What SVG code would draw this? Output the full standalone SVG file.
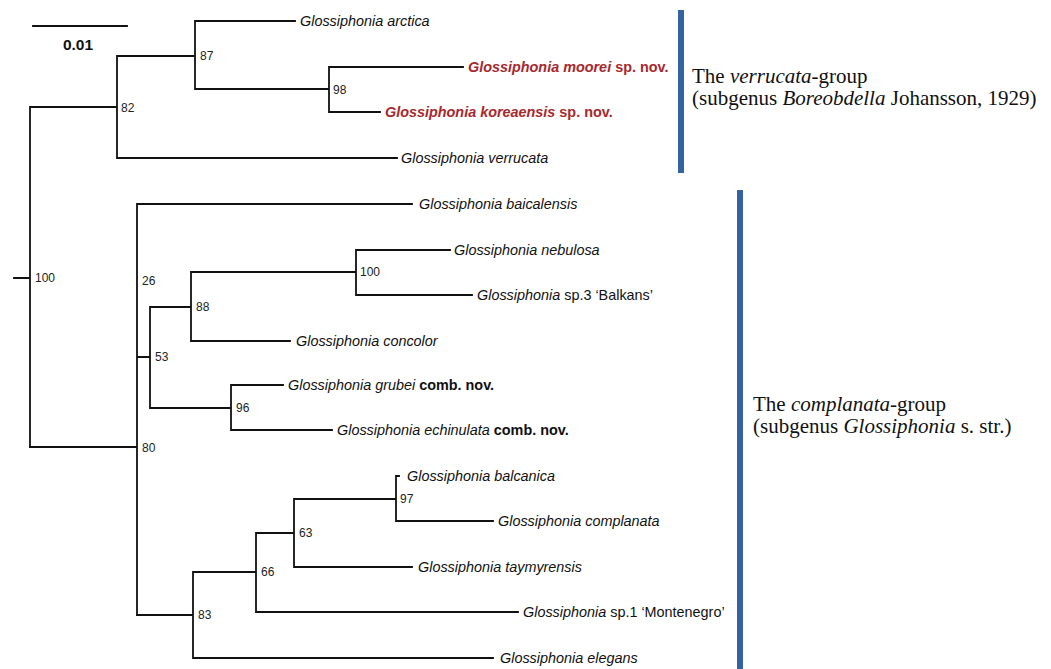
<svg xmlns="http://www.w3.org/2000/svg" width="1051" height="669" viewBox="0 0 1051 669">
<style>
.br{fill:none;stroke:#111;stroke-width:1.8;stroke-linecap:square}
.lf{font-family:"Liberation Sans",Arial,sans-serif;font-size:14.4px;font-style:italic;fill:#111}
.nv{font-style:normal;font-weight:bold}
.sp{font-style:normal}
.red{fill:#a8282c;font-weight:bold}
.bs{font-family:"Liberation Sans",Arial,sans-serif;font-size:12px;fill:#222}
.grp{font-family:"Liberation Serif","Times New Roman",serif;font-size:21px;fill:#111}
.bar{fill:#3563a2}
</style>
<rect width="1051" height="669" fill="#fff"/>
<g id="scale">
<line x1="33" y1="26" x2="127" y2="26" class="br" stroke-linecap="butt"/>
<text x="78" y="50" text-anchor="middle" font-family="Liberation Sans,Arial,sans-serif" font-size="15.5" font-weight="bold" fill="#111">0.01</text>
</g>
<g id="connectors">
<path class="br" d="M14,278 H30 M30,107 V447 M30,107 H117 M117,56 V158 M117,56 H195 M195,21 V89 M195,21 H295 M195,89 H329 M329,67 V112 M329,67 H463 M329,112 H380 M117,158 H397"/>
<path class="br" d="M30,447 H137 M137,204 V615 M137,204 H412 M137,357 H150 M150,307 V408 M150,307 H191 M191,272 V341 M191,272 H356 M356,250 V295 M356,250 H450 M356,295 H472 M191,341 H290 M150,408 H231 M231,385 V430 M231,385 H283 M231,430 H332"/>
<path class="br" d="M137,615 H193 M193,572 V658 M193,572 H256 M256,533 V612 M256,533 H294 M294,499 V567 M294,499 H396 M396,476 V521 M396,476 H399 M396,521 H493 M294,567 H412 M256,612 H518 M193,658 H493"/>
</g>
<g id="n100"><text class="bs" x="35" y="282">100</text></g>
<g id="n82"><text class="bs" x="121" y="112">82</text></g>
<g id="n87"><text class="bs" x="200" y="60">87</text></g>
<g id="n98"><text class="bs" x="333" y="94">98</text></g>
<g id="n80"><text class="bs" x="142" y="452">80</text></g>
<g id="n26"><text class="bs" x="142" y="285">26</text></g>
<g id="n53"><text class="bs" x="155" y="361">53</text></g>
<g id="n88"><text class="bs" x="196" y="311">88</text></g>
<g id="n100b"><text class="bs" x="360" y="276">100</text></g>
<g id="n96"><text class="bs" x="236" y="412">96</text></g>
<g id="n83"><text class="bs" x="198" y="619">83</text></g>
<g id="n66"><text class="bs" x="261" y="576">66</text></g>
<g id="n63"><text class="bs" x="299" y="537">63</text></g>
<g id="n97"><text class="bs" x="400" y="503">97</text></g>
<g id="arctica"><text class="lf" x="300" y="26">Glossiphonia arctica</text></g>
<g id="moorei"><text class="lf red" x="468" y="72">Glossiphonia moorei<tspan class="sp"> sp. nov.</tspan></text></g>
<g id="koreaensis"><text class="lf red" x="385" y="117">Glossiphonia koreaensis<tspan class="sp"> sp. nov.</tspan></text></g>
<g id="verrucata"><text class="lf" x="401" y="163">Glossiphonia verrucata</text></g>
<g id="baicalensis"><text class="lf" x="419" y="209">Glossiphonia baicalensis</text></g>
<g id="nebulosa"><text class="lf" x="454" y="255">Glossiphonia nebulosa</text></g>
<g id="balkans"><text class="lf" x="477" y="300">Glossiphonia<tspan class="sp"> sp.3 ‘Balkans’</tspan></text></g>
<g id="concolor"><text class="lf" x="296" y="346">Glossiphonia concolor</text></g>
<g id="grubei"><text class="lf" x="288" y="390">Glossiphonia grubei<tspan class="nv"> comb. nov.</tspan></text></g>
<g id="echinulata"><text class="lf" x="337" y="435">Glossiphonia echinulata<tspan class="nv"> comb. nov.</tspan></text></g>
<g id="balcanica"><text class="lf" x="407" y="481">Glossiphonia balcanica</text></g>
<g id="complanata"><text class="lf" x="498" y="526">Glossiphonia complanata</text></g>
<g id="taymyrensis"><text class="lf" x="418" y="572">Glossiphonia taymyrensis</text></g>
<g id="montenegro"><text class="lf" x="523" y="617">Glossiphonia<tspan class="sp"> sp.1 ‘Montenegro’</tspan></text></g>
<g id="elegans"><text class="lf" x="500" y="663">Glossiphonia elegans</text></g>
<g id="verrucata-group">
<rect class="bar" x="678" y="10" width="6" height="163"/>
<text class="grp" x="692" y="83">The <tspan font-style="italic">verrucata</tspan>-group</text>
<text class="grp" x="692" y="105">(subgenus <tspan font-style="italic">Boreobdella</tspan> Johansson, 1929)</text>
</g>
<g id="complanata-group">
<rect class="bar" x="737" y="190" width="6" height="479"/>
<text class="grp" x="753" y="411">The <tspan font-style="italic">complanata</tspan>-group</text>
<text class="grp" x="753" y="433">(subgenus <tspan font-style="italic">Glossiphonia</tspan> s. str.)</text>
</g>
</svg>
